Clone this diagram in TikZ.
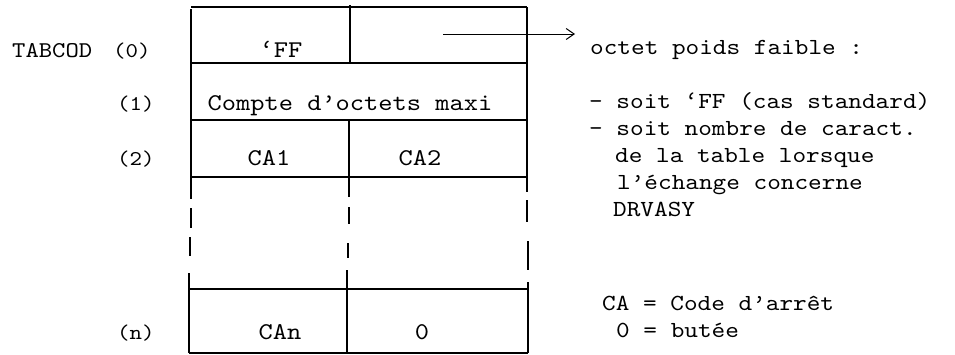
\documentclass[tikz,border=0pt]{standalone}
\usepackage{fontspec}
\setmonofont{lmmono10-regular.otf}[FakeStretch=1.13]
\usetikzlibrary{arrows.meta}
\begin{document}
\begin{tikzpicture}[x=1pt,y=-1pt,
  rule/.style={line width=1.1pt, line cap=butt},
  txt/.style={font=\ttfamily\fontsize{24}{28}\selectfont, inner sep=0pt, anchor=base},
  note/.style={font=\ttfamily\fontsize{23}{27}\selectfont, inner sep=0pt, anchor=base west},
  idx/.style={font=\ttfamily\fontsize{21}{25}\selectfont, inner sep=0pt, anchor=base west}]
\useasboundingbox (0,0) rectangle (955,354);

% horizontal rules of the table
\draw[rule] (191,7)   -- (527,7);
\draw[rule] (191,63)  -- (527,63);
\draw[rule] (191,120) -- (527,120);
\draw[rule] (191,177) -- (527,177);
\draw[rule] (189,289) -- (528,289);
\draw[rule] (189,353) -- (528,353);

% left edge (broken between the rows 2 and n)
\draw[rule] (191,9)   -- (191,199);
\draw[rule] (191,208) -- (191,228);
\draw[rule] (190,237) -- (190,256);
\draw[rule] (189,273) -- (189,353);

% middle divider
\draw[rule] (350,5)   -- (350,63);
\draw[rule] (349,120) -- (349,197);
\draw[rule] (349,207) -- (349,224);
\draw[rule] (348,243) -- (348,258);
\draw[rule] (347,270) -- (347,353);

% right edge
\draw[rule] (527,7)   -- (527,192);
\draw[rule] (527,200) -- (527,222);
\draw[rule] (528,241) -- (528,270);
\draw[rule] (528,282) -- (528,353);

% pointer from the low-order byte to its description
\coordinate (arrS) at (443,34);
\coordinate (arrE) at (575,34);
\draw[line width=1pt, -{Straight Barb[length=8pt,width=11pt,line width=1pt]}] (arrS) -- (arrE);

% row labels
\node[font=\ttfamily\fontsize{22.5}{27}\selectfont, inner sep=0pt, anchor=base west] (tabcod) at (12,57) {TABCOD};
\node[idx] (i0) at (113,57) {(0)};
\node[idx] (i1) at (117,110) {(1)};
\node[idx] (i2) at (117,165) {(2)};
\node[idx] (in) at (117,339) {(n)};

% cell contents
\node[txt] (ff)    at (281,57)  {‘FF};
\node[txt] (cmax)  at (350,110) {Compte d’octets maxi};
\node[txt] (ca1)   at (269,165) {CA1};
\node[txt] (ca2)   at (420,165) {CA2};
\node[txt] (can)   at (280,339) {CAn};
\node[txt] (zero)  at (422,339) {0};

% description on the right
\node[note] (d0) at (590,54)  {octet poids faible :};
\node[note] (d1) at (589,108) {- soit ‘FF (cas standard)};
\node[note] (d2) at (589,135) {- soit nombre de caract.};
\node[note] (d3) at (615,162) {de la table lorsque};
\node[note] (d4) at (617,189) {l’échange concerne};
\node[note] (d5) at (613,216) {DRVASY};
\node[note] (d6) at (602,310) {CA = Code d’arrêt};
\node[note] (d7) at (616,337) {0 = butée};
\end{tikzpicture}
\end{document}
